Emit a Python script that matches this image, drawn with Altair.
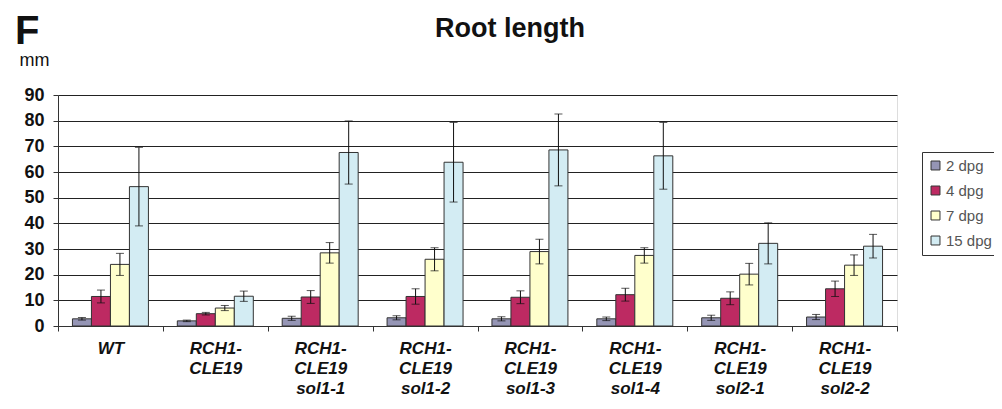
import altair as alt
import pandas as pd

groups = ["WT", "RCH1-|CLE19", "RCH1-|CLE19|sol1-1", "RCH1-|CLE19|sol1-2",
          "RCH1-|CLE19|sol1-3", "RCH1-|CLE19|sol1-4", "RCH1-|CLE19|sol2-1", "RCH1-|CLE19|sol2-2"]
series = ["2 dpg", "4 dpg", "7 dpg", "15 dpg"]
colors = ["#9595b5", "#bd2a62", "#ffffcc", "#d3ecf3"]

mean_2 = [2.8, 2.0, 3.0, 3.2, 2.8, 2.8, 3.2, 3.5]
mean_4 = [11.5, 4.8, 11.3, 11.5, 11.2, 12.2, 10.8, 14.5]
mean_7 = [24, 7, 28.5, 26, 29, 27.5, 20.2, 23.7]
mean_15 = [54.3, 11.6, 67.6, 63.8, 68.6, 66.3, 32.2, 31.1]

err_2 = [0.5, 0.3, 0.8, 0.8, 0.8, 0.7, 1.0, 1.0]
err_4 = [2.5, 0.5, 2.5, 3.0, 2.5, 2.5, 2.5, 3.0]
err_7 = [4.3, 1.0, 4.0, 4.5, 4.8, 3.0, 4.2, 4.0]
err_15 = [15.3, 2.0, 12.3, 15.5, 14.0, 13.0, 8.0, 4.6]

means = [mean_2, mean_4, mean_7, mean_15]
errs = [err_2, err_4, err_7, err_15]

rows = []
for s, m, e in zip(series, means, errs):
    for g, mv, ev in zip(groups, m, e):
        rows.append({"group": g, "series": s, "mean": mv, "lo": mv - ev, "hi": mv + ev})
df = pd.DataFrame(rows)

FONT = "Liberation Sans"

y_axis = alt.Axis(
    values=list(range(0, 91, 10)), grid=True, gridColor="#222", gridWidth=1,
    domainColor="#333", tickColor="#333", tickSize=5, labelPadding=9,
    labelFont=FONT, labelFontSize=18, labelFontWeight="bold", labelColor="#111",
    title="mm", titleAngle=0, titleX=-24, titleY=-30, titleAlign="center",
    titleBaseline="alphabetic", titleFont=FONT, titleFontSize=18,
    titleFontWeight="normal", titleColor="#111",
)
x_axis = alt.Axis(
    title=None, labelAngle=0, tickBand="extent", tickSize=5, tickColor="#333",
    domainColor="#333", labelExpr="split(datum.label, '|')",
    labelFont=FONT, labelFontSize=17, labelFontWeight="bold", labelFontStyle="italic",
    labelLineHeight=20, labelPadding=9, labelColor="#111",
)
y_scale = alt.Scale(domain=[0, 90], nice=False, zero=True)

base = alt.Chart(df).encode(
    x=alt.X("group:N", sort=groups, scale=alt.Scale(paddingInner=0, paddingOuter=0), axis=x_axis),
    xOffset=alt.XOffset("series:N", sort=series, scale=alt.Scale(paddingInner=0, paddingOuter=0.76)),
)

bars = base.mark_bar(stroke="#333", strokeWidth=1).encode(
    y=alt.Y("mean:Q", scale=y_scale, axis=y_axis),
    color=alt.Color(
        "series:N", sort=series, scale=alt.Scale(domain=series, range=colors),
        legend=alt.Legend(
            title=None, orient="none", legendX=864, legendY=57, strokeColor="#333",
            fillColor="white", padding=6, symbolType="square", symbolSize=80,
            symbolStrokeColor="#333", symbolStrokeWidth=1, symbolOpacity=1,
            labelFont=FONT, labelFontSize=15, labelColor="#555", rowPadding=9,
            labelOffset=3,
        ),
    ),
)
rules = base.mark_rule(color="#111", strokeWidth=1).encode(
    y=alt.Y("lo:Q", scale=y_scale, axis=y_axis), y2="hi:Q"
)
cap_hi = base.mark_tick(color="#111", size=8, thickness=1).encode(
    y=alt.Y("hi:Q", scale=y_scale, axis=y_axis)
)
cap_lo = base.mark_tick(color="#111", size=8, thickness=1).encode(
    y=alt.Y("lo:Q", scale=y_scale, axis=y_axis)
)

panel = alt.Chart(pd.DataFrame({"t": ["F"]})).mark_text(
    font=FONT, fontSize=40, fontWeight="bold", align="left", baseline="alphabetic", color="#111"
).encode(text="t:N", x=alt.value(-43), y=alt.value(-51))

title = alt.Chart(pd.DataFrame({"t": ["Root length"]})).mark_text(
    font=FONT, fontSize=27, fontWeight="bold", align="center", baseline="alphabetic", color="#111"
).encode(text="t:N", x=alt.value(452), y=alt.value(-58))

chart = alt.layer(bars, rules, cap_hi, cap_lo, panel, title).properties(
    width=839, height=231,
    autosize=alt.AutoSizeParams(type="none"),
    padding={"left": 50, "top": 87, "right": 97, "bottom": 75},
).configure_view(stroke="#333", strokeWidth=1).configure(background="white")

chart.save("out.html", embed_options={"renderer": "svg", "actions": False})
